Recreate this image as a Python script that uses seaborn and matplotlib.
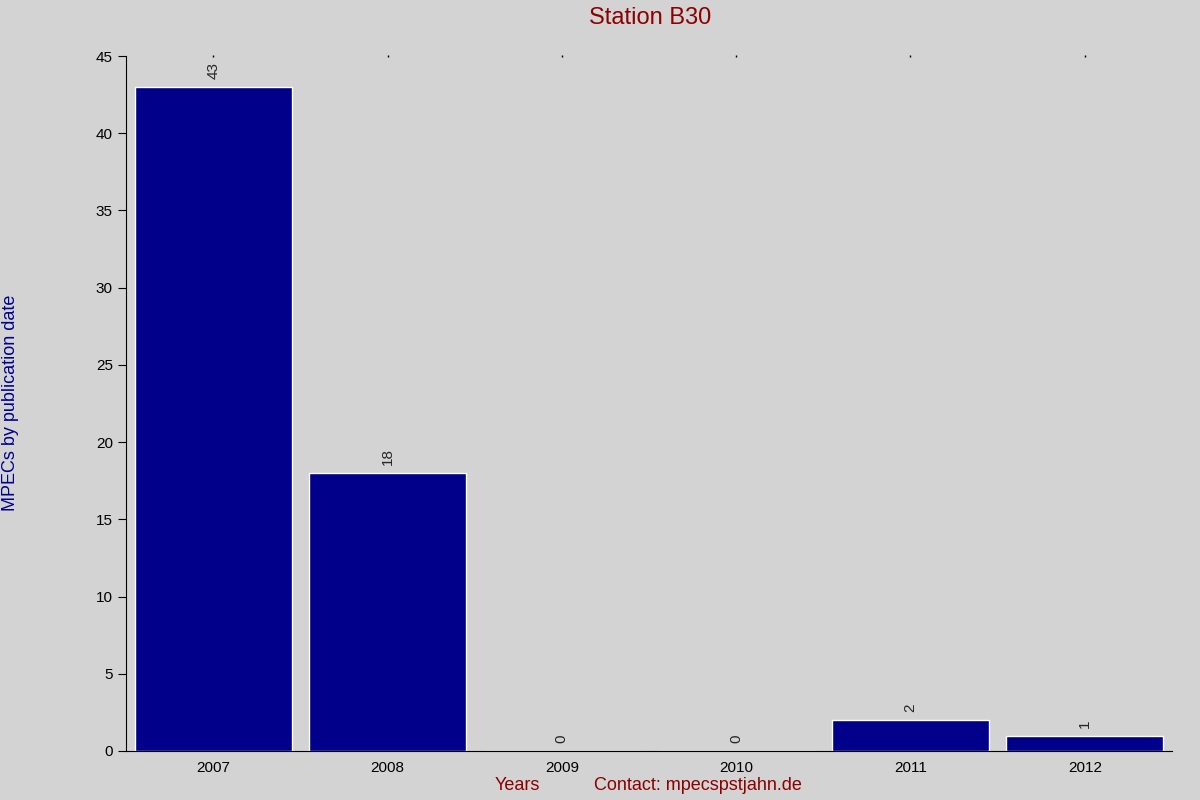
import matplotlib
matplotlib.use("Agg")
import matplotlib.pyplot as plt
import seaborn as sns
import pandas as pd

years = ["2007", "2008", "2009", "2010", "2011", "2012"]
counts = [43, 18, 0, 0, 2, 1]

bg = "#d3d3d3"
sns.set_style("white")
plt.rcParams['font.family'] = ['Liberation Sans', 'DejaVu Sans']

df = pd.DataFrame({"year": years, "count": counts})

fig = plt.figure(figsize=(12, 8), dpi=100, facecolor=bg)
ax = fig.add_axes([126/1200, 1 - 751/800, (1172-126)/1200, (751-56)/800])
ax.set_facecolor(bg)
sns.barplot(data=df, x="year", y="count", color="#00008b", saturation=1, width=0.9, ax=ax)

ax.set_xlim(-0.5, 5.5)
ax.set_ylim(0, 45)
ax.set_yticks(range(0, 46, 5))
ax.set_xlabel("")
ax.set_ylabel("")
for s in ["top", "right"]:
    ax.spines[s].set_visible(False)
for s in ["left", "bottom"]:
    ax.spines[s].set_color("black")
    ax.spines[s].set_linewidth(0.8)
ax.tick_params(axis="y", left=True, length=6, width=0.8, labelsize=11, colors="black")
ax.tick_params(axis="x", bottom=False, labelsize=11, colors="black")

for i, v in enumerate(counts):
    ax.text(i, v + 0.5, str(v), rotation=90, ha="center", va="bottom", fontsize=11)
    ax.plot(i, 45, marker="|", color="black", markersize=2, clip_on=False)

fig.text(650/1200, 1 - 18/800, "Station B30", color="#8b0000", fontsize=17, ha="center", va="center")
fig.text(517/1200, 1 - 786/800, "Years", color="#8b0000", fontsize=13, ha="center", va="center")
fig.text(698/1200, 1 - 786/800, "Contact: mpecspstjahn.de", color="#8b0000", fontsize=13, ha="center", va="center")
fig.text(11/1200, 1 - 403/800, "MPECs by publication date", color="#00008b", fontsize=13,
         rotation=90, ha="center", va="center")

fig.savefig("out.png", dpi=100, facecolor=bg)
